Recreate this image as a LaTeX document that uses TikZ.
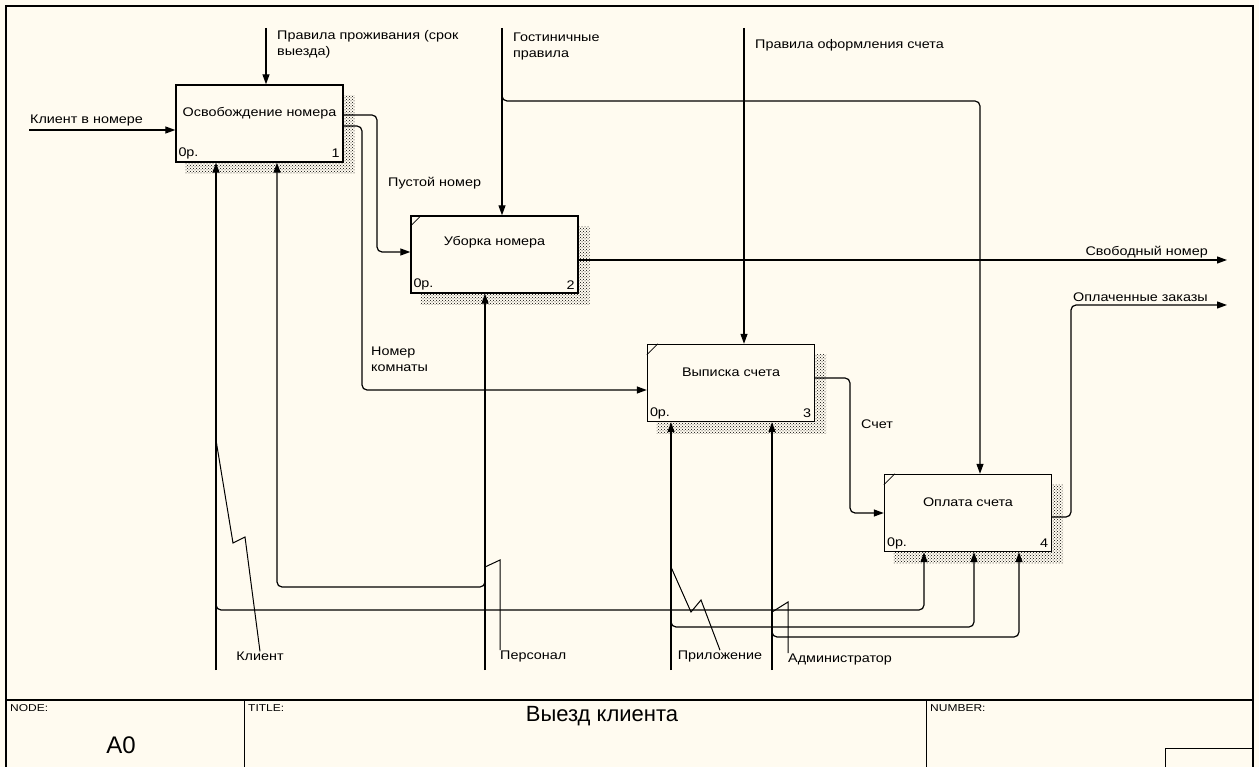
\documentclass[tikz,border=0pt]{standalone}
\usepackage{fontspec}
\setmainfont{Liberation Sans}[FakeStretch=1.15]
\newfontfamily\tbfont{Liberation Sans}
\newfontfamily\tbsmall{Liberation Sans}[FakeStretch=1.2]
\usetikzlibrary{arrows.meta,calc,patterns}
\definecolor{paper}{RGB}{255,251,240}
\pgfdeclarelayer{paperlayer}
\pgfdeclarelayer{shade}
\pgfsetlayers{paperlayer,shade,main}

\begin{document}
\begin{tikzpicture}[x=1pt,y=-1pt,
  font=\fontsize{12.5}{16}\selectfont,
  func/.style={draw, line width=1.4pt, fill=paper, minimum width=167pt,
    minimum height=77pt, inner sep=0pt},
  flow/.style={line width=1.2pt, -{Triangle[length=10pt,width=7pt]},
    rounded corners=5pt},
  squig/.style={line width=1pt},
  lbl/.style={inner sep=0pt, align=left},
  ftitle/.style={inner sep=0pt},
  fcorner/.style={inner sep=0pt},
  tblabel/.style={inner sep=0pt, font=\tbsmall\fontsize{10}{12}\selectfont},
]
\useasboundingbox (0,0) rectangle (1259,767);
\begin{pgfonlayer}{paperlayer}
  \fill[paper] (0,0) rectangle (1259,767);
\end{pgfonlayer}

% sheet frame and title block
\draw[line width=2pt] (6,767) -- (6,6) -- (1253,6) -- (1253,767);
\draw[line width=2pt] (6,700) -- (1253,700);
\draw[line width=1pt] (244,700) -- (244,767);
\draw[line width=1pt] (926,700) -- (926,767);
\draw[line width=1pt] (1165,767) -- (1165,748) -- (1253,748);
\node[tblabel, anchor=north west] (tbnode) at (10,704) {NODE:};
\node[tblabel, anchor=north west] (tbtitle) at (248,704) {TITLE:};
\node[tblabel, anchor=north west] (tbnum) at (930,704) {NUMBER:};
\node[inner sep=0pt, font=\tbfont\fontsize{24}{28}\selectfont] (tbA0) at (121,745) {A0};
\node[inner sep=0pt, font=\tbfont\fontsize{22}{26}\selectfont] (tbname) at (602,716) {Выезд клиента};

% function boxes
\node[func] (b1) at (259.5,123.5) {};
\node[func] (b2) at (494.5,254.5) {};
\node[func] (b3) at (731,383) {};
\node[func] (b4) at (968,513) {};

% hatched drop shadows
\begin{pgfonlayer}{shade}
  \foreach \b in {b1,b2,b3,b4}
    \fill[pattern=crosshatch dots, pattern color=black]
      ($(\b.north west)+(10,11)$) rectangle ($(\b.south east)+(11,11)$);
\end{pgfonlayer}

\foreach \b in {b2,b3,b4}
  \draw[line width=0.8pt] ($(\b.north west)+(0,11)$) -- ($(\b.north west)+(11,0)$);

\node[ftitle] (b1t) at ($(b1.north)+(0,29)$) {Освобождение номера};
\node[ftitle] (b2t) at ($(b2.north)+(0,27)$) {Уборка номера};
\node[ftitle] (b3t) at ($(b3.north)+(0,28)$) {Выписка счета};
\node[ftitle] (b4t) at ($(b4.north)+(0,28)$) {Оплата счета};
\foreach \b/\n in {b1/1,b2/2,b3/3,b4/4}{
  \node[fcorner, anchor=west] (\b c) at ($(\b.south west)+(3,-9)$) {0р.};
  \node[fcorner, anchor=east] (\b n) at ($(\b.south east)+(-4,-9)$) {\n};
}

% free ends, bends and junctions
\coordinate (inA) at (29,130);
\coordinate (ctlA) at (266,28);
\coordinate (ctlB) at (502,28);
\coordinate (ctlC) at (744,28);
\coordinate (jB) at (502,101);
\coordinate (tB4) at (980,101);
\coordinate (outA) at (1227,260);
\coordinate (outB) at (1227,305);
\coordinate (t1) at (377,115);
\coordinate (t1b) at (377,252);
\coordinate (t2) at (362,126);
\coordinate (t2b) at (362,390);
\coordinate (t3) at (850,378);
\coordinate (t3b) at (850,513);
\coordinate (t4) at (1071,517);
\coordinate (t4b) at (1071,305);
\coordinate (mKl) at (216,670);
\coordinate (mPe) at (485,670);
\coordinate (mPr) at (671,670);
\coordinate (mAd) at (772,670);
\coordinate (kA) at (216,610);
\coordinate (kB) at (924,610);
\coordinate (pA) at (485,587);
\coordinate (pB) at (277,587);
\coordinate (rA) at (671,627);
\coordinate (rB) at (974,627);
\coordinate (aA) at (772,637);
\coordinate (aB) at (1019,637);

% inputs and controls
\draw[flow] (inA) -- (inA -| b1.west);
\draw[flow] (ctlA) -- (ctlA |- b1.north);
\draw[flow] (ctlB) -- (ctlB |- b2.north);
\draw[flow] (ctlC) -- (ctlC |- b3.north);
\draw[flow] ($(jB)+(0,-6)$) -- (jB) -- (tB4) -- (tB4 |- b4.north);

% outputs
\draw[flow] (t1 -| b1.east) -- (t1) -- (t1b) -- (t1b -| b2.west);
\draw[flow] (t2 -| b1.east) -- (t2) -- (t2b) -- (t2b -| b3.west);
\draw[flow] (outA -| b2.east) -- (outA);
\draw[flow] (t3 -| b3.east) -- (t3) -- (t3b) -- (t3b -| b4.west);
\draw[flow] (t4 -| b4.east) -- (t4) -- (t4b) -- (outB);

% mechanisms
\draw[flow] (mKl) -- (mKl |- b1.south);
\draw[flow] ($(kA)+(0,-6)$) -- (kA) -- (kB) -- (kB |- b4.south);
\draw[flow] (mPe) -- (mPe |- b2.south);
\draw[flow] ($(pA)+(0,-6)$) -- (pA) -- (pB) -- (pB |- b1.south);
\draw[flow] (mPr) -- (mPr |- b3.south);
\draw[flow] ($(rA)+(0,-6)$) -- (rA) -- (rB) -- (rB |- b4.south);
\draw[flow] (mAd) -- (mAd |- b3.south);
\draw[flow] ($(aA)+(0,-6)$) -- (aA) -- (aB) -- (aB |- b4.south);

% arrow labels
\node[lbl, anchor=west] (lIn) at (30,120) {Клиент в номере};
\node[lbl, anchor=north west] (lCtlA) at (277,30) {Правила проживания (срок\\выезда)};
\node[lbl, anchor=north west] (lCtlB) at (513,33) {Гостиничные\\правила};
\node[lbl, anchor=west] (lCtlC) at (755,45) {Правила оформления счета};
\node[lbl, anchor=west] (lEmpty) at (388,183) {Пустой номер};
\node[lbl, anchor=north west] (lRoom) at (371,347) {Номер\\комнаты};
\node[lbl, anchor=east] (lFree) at (1208,252) {Свободный номер};
\node[lbl, anchor=east] (lPaid) at (1208,297) {Оплаченные заказы};
\node[lbl, anchor=west] (lBill) at (861,424) {Счет};
\node[lbl] (lKl) at (260,656) {Клиент};
\node[lbl, anchor=west] (lPe) at (500,656) {Персонал};
\node[lbl] (lPr) at (720,656) {Приложение};
\node[lbl, anchor=west] (lAd) at (788,659) {Администратор};

% label leaders
\draw[squig] (216,440) -- (233,543) -- (245,537) -- (lKl.north);
\draw[squig] (485,567) -- (500,560) -- (lPe.north west);
\draw[squig] (671,567) -- (691,612) -- (701,600) -- (lPr.north);
\draw[squig] (772,578) -- (772,612) -- (788,602) -- (lAd.north west);
\end{tikzpicture}
\end{document}
